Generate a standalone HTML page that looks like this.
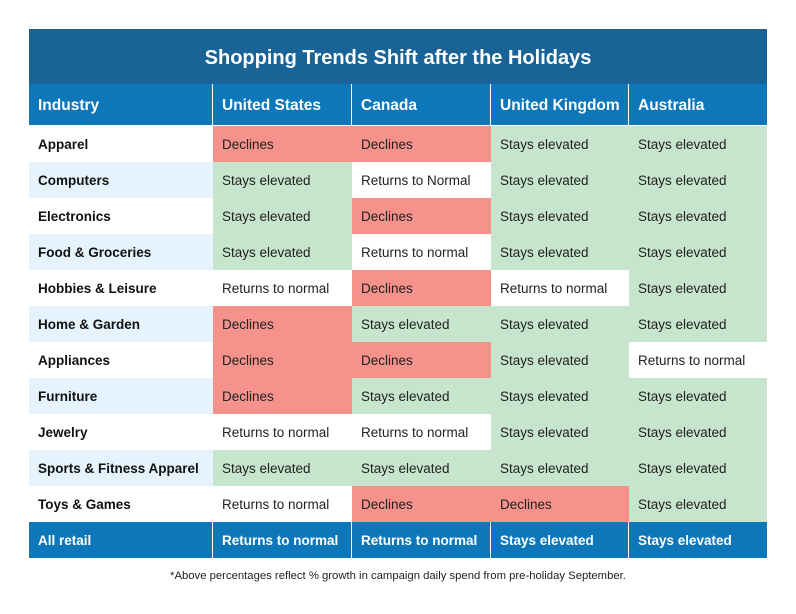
<!DOCTYPE html><html><head><style>
body{margin:0;width:796px;height:614px;background:#fff;font-family:"Liberation Sans",sans-serif;position:relative;overflow:hidden}
.t{position:absolute;left:29px;top:29px;width:738px;height:55px;background:#1a6396;color:#fff;font-weight:bold;font-size:20px;text-align:center;line-height:58px}
.c{position:absolute;height:36px;line-height:37px;font-size:13.5px;color:#222;box-sizing:border-box;padding-left:9px;white-space:nowrap}
.h{background:#0d77ba;color:#fff;font-weight:bold;font-size:15.5px;height:41px;line-height:43px}
.f{background:#0d77ba;color:#fff;font-weight:bold;font-size:13.5px}
.i{font-weight:bold;color:#111}
.r{background:#f4928b}.g{background:#c6e5cc}.b{background:#e6f3fc}
.n{position:absolute;top:570px;left:0;width:796px;text-align:center;font-size:11.3px;color:#222}
</style></head><body>
<div class="t">Shopping Trends Shift after the Holidays</div>
<div id="tb"></div>
<div class="n">*Above percentages reflect % growth in campaign daily spend from pre-holiday September.</div>
<script>
var X=[29,213,352,491,629],W=[183,138,138,137,138];
var H=["Industry","United States","Canada","United Kingdom","Australia"];
var D=[["Apparel","D","D","S","S"],["Computers","S","RN","S","S"],["Electronics","S","D","S","S"],["Food & Groceries","S","R","S","S"],["Hobbies & Leisure","R","D","R","S"],["Home & Garden","D","S","S","S"],["Appliances","D","D","S","R"],["Furniture","D","S","S","S"],["Jewelry","R","R","S","S"],["Sports & Fitness Apparel","S","S","S","S"],["Toys & Games","R","D","D","S"]];
var T={D:["Declines","r"],S:["Stays elevated","g"],R:["Returns to normal",""],RN:["Returns to Normal",""]};
var h="";
for(var j=0;j<5;j++)h+='<div class="c h" style="left:'+X[j]+'px;top:84px;width:'+W[j]+'px">'+H[j]+'</div>';
for(var i=0;i<D.length;i++){var y=126+36*i;
h+='<div class="c i '+(i%2?'b':'')+'" style="left:29px;top:'+y+'px;width:184px">'+D[i][0].replace('&','&amp;')+'</div>';
for(j=1;j<5;j++){var t=T[D[i][j]];h+='<div class="c '+t[1]+'" style="left:'+X[j]+'px;top:'+y+'px;width:'+(j<4?X[j+1]-X[j]:138)+'px">'+t[0]+'</div>';}}
var F=["All retail","Returns to normal","Returns to normal","Stays elevated","Stays elevated"];
for(j=0;j<5;j++)h+='<div class="c f" style="left:'+X[j]+'px;top:522px;width:'+W[j]+'px">'+F[j]+'</div>';
document.getElementById("tb").innerHTML=h;
</script>
</body></html>
